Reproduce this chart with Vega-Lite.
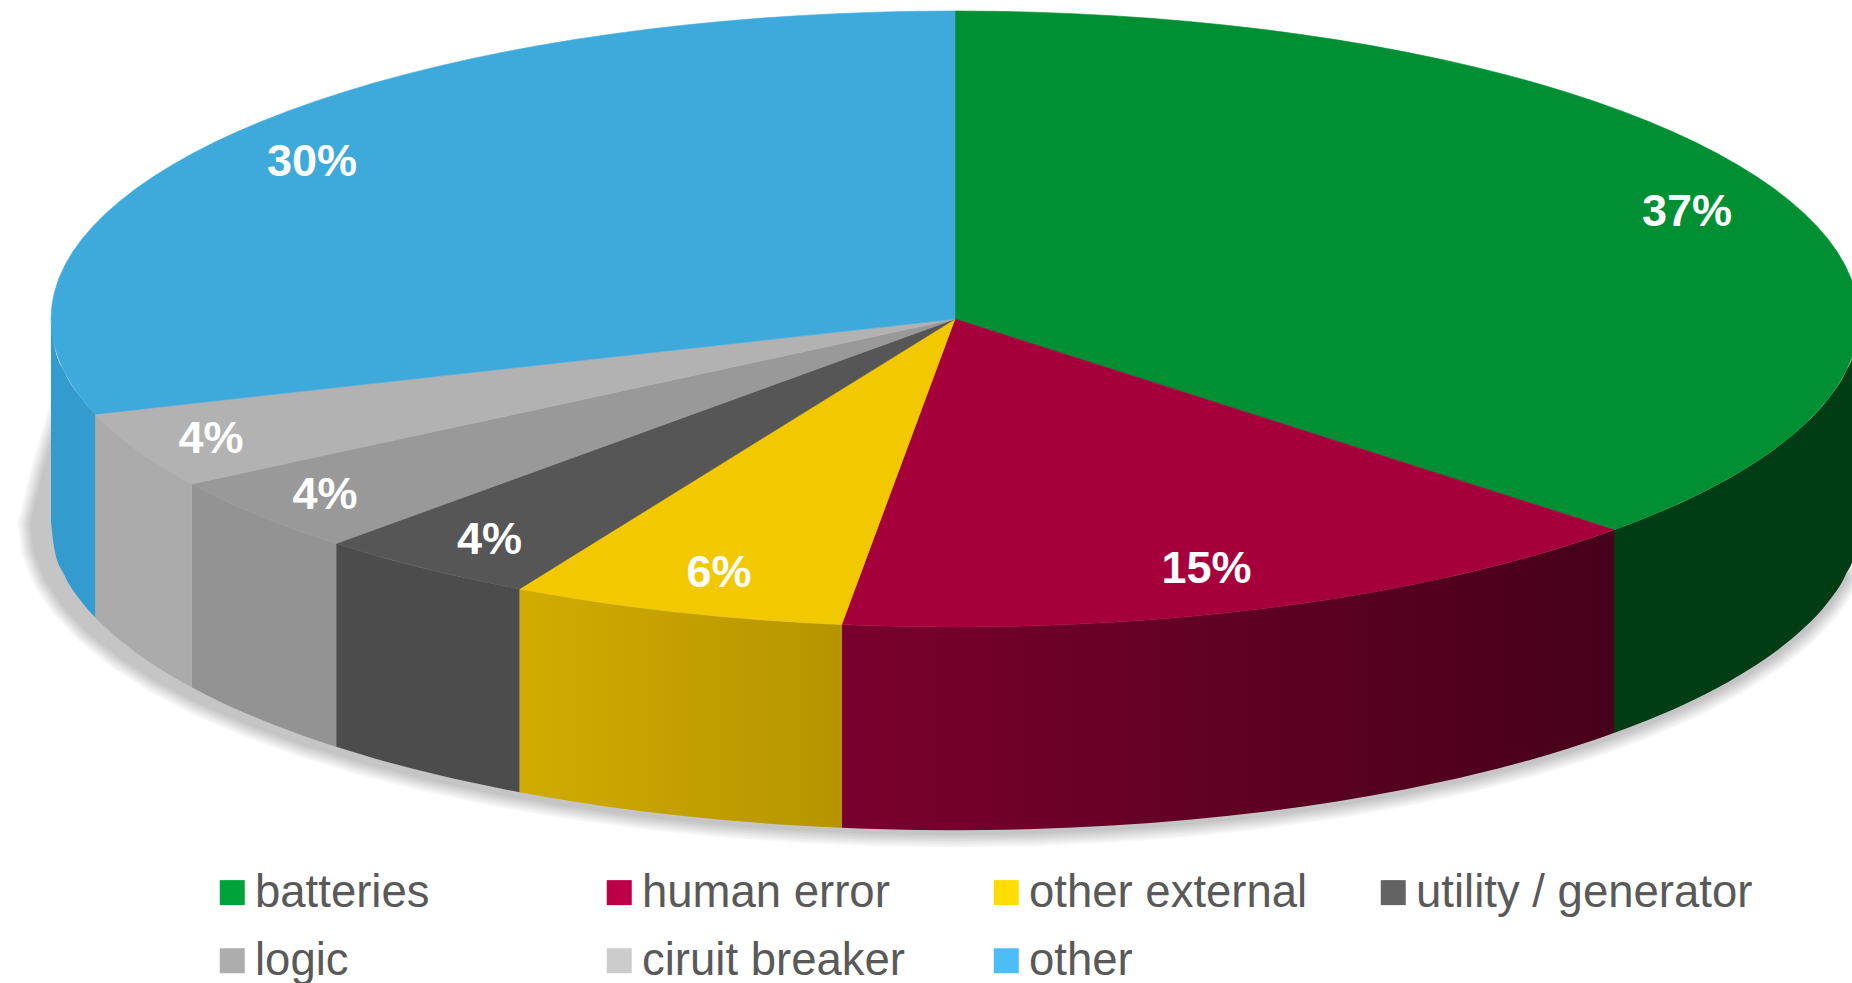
{"$schema":"https://vega.github.io/schema/vega-lite/v6.json","width":1852,"height":983,"padding":0,"autosize":{"type":"none"},"background":"white","config":{"view":{"stroke":null}},
"datasets":{
"slices":[{"category":"batteries","share":0.37,"u":80.97,"v":35.06},{"category":"human error","share":0.15,"u":27.82,"v":-80.9},{"category":"other external","share":0.06,"u":-26.1,"v":-82.1},{"category":"utility / generator","share":0.04,"u":-51.5,"v":-71.5},{"category":"logic","share":0.04,"u":-69.7,"v":-56.8},{"category":"ciruit breaker","share":0.04,"u":-82.3,"v":-38.6},{"category":"other","share":0.30,"u":-71.12,"v":51.3}],
"rim":[{"i":-1,"u":-98.5,"v":-28},{"i":0,"u":-100.5,"v":-48},{"i":1,"u":-102,"v":-66},{"i":2,"u":-101.6,"v":-74.72},{"i":3,"u":-100.45,"v":-83.36},{"i":4,"u":-98.52,"v":-91.88},{"i":5,"u":-95.85,"v":-100.2},{"i":6,"u":-92.44,"v":-108.26},{"i":7,"u":-88.33,"v":-116},{"i":8,"u":-83.56,"v":-123.36},{"i":9,"u":-78.13,"v":-130.28},{"i":10,"u":-72.12,"v":-136.71},{"i":11,"u":-65.57,"v":-142.6},{"i":12,"u":-58.51,"v":-147.92},{"i":13,"u":-51,"v":-152.6},{"i":14,"u":-43.11,"v":-156.63},{"i":15,"u":-34.88,"v":-159.97},{"i":16,"u":-26.4,"v":-162.59},{"i":17,"u":-17.71,"v":-164.48},{"i":18,"u":-8.89,"v":-165.62},{"i":19,"u":0,"v":-166},{"i":20,"u":8.72,"v":-165.62},{"i":21,"u":17.36,"v":-164.48},{"i":22,"u":25.88,"v":-162.59},{"i":23,"u":34.2,"v":-159.97},{"i":24,"u":42.26,"v":-156.63},{"i":25,"u":50,"v":-152.6},{"i":26,"u":57.36,"v":-147.92},{"i":27,"u":64.28,"v":-142.6},{"i":28,"u":70.71,"v":-136.71},{"i":29,"u":76.6,"v":-130.28},{"i":30,"u":81.92,"v":-123.36},{"i":31,"u":86.6,"v":-116},{"i":32,"u":90.63,"v":-108.26},{"i":33,"u":93.97,"v":-100.2},{"i":34,"u":96.59,"v":-91.88},{"i":35,"u":98.48,"v":-83.36}],
"walls":[
{"c":"batteries","u":100,"v":0,"v2":-66},{"c":"batteries","u":99.62,"v":-8.72,"v2":-74.72},{"c":"batteries","u":98.48,"v":-17.36,"v2":-83.36},{"c":"batteries","u":96.59,"v":-25.88,"v2":-91.88},{"c":"batteries","u":93.97,"v":-34.2,"v2":-100.2},{"c":"batteries","u":90.63,"v":-42.26,"v2":-108.26},{"c":"batteries","u":86.6,"v":-50,"v2":-116},{"c":"batteries","u":81.92,"v":-57.36,"v2":-123.36},{"c":"batteries","u":76.6,"v":-64.28,"v2":-130.28},{"c":"batteries","u":72.9,"v":-68.45,"v2":-134.45},
{"c":"human error","u":72.9,"v":-68.45,"v2":-134.45},{"c":"human error","u":70.71,"v":-70.71,"v2":-136.71},{"c":"human error","u":64.28,"v":-76.6,"v2":-142.6},{"c":"human error","u":57.36,"v":-81.92,"v2":-147.92},{"c":"human error","u":50,"v":-86.6,"v2":-152.6},{"c":"human error","u":42.26,"v":-90.63,"v2":-156.63},{"c":"human error","u":34.2,"v":-93.97,"v2":-159.97},{"c":"human error","u":25.88,"v":-96.59,"v2":-162.59},{"c":"human error","u":17.36,"v":-98.48,"v2":-164.48},{"c":"human error","u":8.72,"v":-99.62,"v2":-165.62},{"c":"human error","u":0,"v":-100,"v2":-166},{"c":"human error","u":-8.72,"v":-99.62,"v2":-165.62},{"c":"human error","u":-12.53,"v":-99.21,"v2":-165.21},
{"c":"other external","u":-12.53,"v":-99.21,"v2":-165.21},{"c":"other external","u":-17.36,"v":-98.48,"v2":-164.48},{"c":"other external","u":-25.88,"v":-96.59,"v2":-162.59},{"c":"other external","u":-34.2,"v":-93.97,"v2":-159.97},{"c":"other external","u":-42.26,"v":-90.63,"v2":-156.63},{"c":"other external","u":-48.18,"v":-87.63,"v2":-153.63},
{"c":"utility / generator","u":-48.18,"v":-87.63,"v2":-153.63},{"c":"utility / generator","u":-50,"v":-86.6,"v2":-152.6},{"c":"utility / generator","u":-57.36,"v":-81.92,"v2":-147.92},{"c":"utility / generator","u":-64.28,"v":-76.6,"v2":-142.6},{"c":"utility / generator","u":-68.45,"v":-72.9,"v2":-138.9},
{"c":"logic","u":-68.45,"v":-72.9,"v2":-138.9},{"c":"logic","u":-70.71,"v":-70.71,"v2":-136.71},{"c":"logic","u":-76.6,"v":-64.28,"v2":-130.28},{"c":"logic","u":-81.92,"v":-57.36,"v2":-123.36},{"c":"logic","u":-84.43,"v":-53.58,"v2":-119.58},
{"c":"ciruit breaker","u":-84.43,"v":-53.58,"v2":-119.58},{"c":"ciruit breaker","u":-86.6,"v":-50,"v2":-116},{"c":"ciruit breaker","u":-90.63,"v":-42.26,"v2":-108.26},{"c":"ciruit breaker","u":-93.97,"v":-34.2,"v2":-100.2},{"c":"ciruit breaker","u":-95.11,"v":-30.9,"v2":-96.9},
{"c":"other","u":-95.11,"v":-30.9,"v2":-96.9},{"c":"other","u":-96.59,"v":-25.88,"v2":-91.88},{"c":"other","u":-98.48,"v":-17.36,"v2":-83.36},{"c":"other","u":-99.62,"v":-8.72,"v2":-74.72},{"c":"other","u":-100,"v":0,"v2":-66}],
"top":[
{"c":"batteries","i":-1,"u":0,"v":0},{"c":"batteries","i":0,"u":0,"v":100},{"c":"batteries","i":2.5,"u":4.36,"v":99.9},{"c":"batteries","i":5,"u":8.72,"v":99.62},{"c":"batteries","i":7.5,"u":13.05,"v":99.14},{"c":"batteries","i":10,"u":17.36,"v":98.48},{"c":"batteries","i":12.5,"u":21.64,"v":97.63},{"c":"batteries","i":15,"u":25.88,"v":96.59},{"c":"batteries","i":17.5,"u":30.07,"v":95.37},{"c":"batteries","i":20,"u":34.2,"v":93.97},{"c":"batteries","i":22.5,"u":38.27,"v":92.39},{"c":"batteries","i":25,"u":42.26,"v":90.63},{"c":"batteries","i":27.5,"u":46.17,"v":88.7},{"c":"batteries","i":30,"u":50,"v":86.6},{"c":"batteries","i":32.5,"u":53.73,"v":84.34},{"c":"batteries","i":35,"u":57.36,"v":81.92},{"c":"batteries","i":37.5,"u":60.88,"v":79.34},{"c":"batteries","i":40,"u":64.28,"v":76.6},{"c":"batteries","i":42.5,"u":67.56,"v":73.73},{"c":"batteries","i":45,"u":70.71,"v":70.71},{"c":"batteries","i":47.5,"u":73.73,"v":67.56},{"c":"batteries","i":50,"u":76.6,"v":64.28},{"c":"batteries","i":52.5,"u":79.34,"v":60.88},{"c":"batteries","i":55,"u":81.92,"v":57.36},{"c":"batteries","i":57.5,"u":84.34,"v":53.73},{"c":"batteries","i":60,"u":86.6,"v":50},{"c":"batteries","i":62.5,"u":88.7,"v":46.17},{"c":"batteries","i":65,"u":90.63,"v":42.26},{"c":"batteries","i":67.5,"u":92.39,"v":38.27},{"c":"batteries","i":70,"u":93.97,"v":34.2},{"c":"batteries","i":72.5,"u":95.37,"v":30.07},{"c":"batteries","i":75,"u":96.59,"v":25.88},{"c":"batteries","i":77.5,"u":97.63,"v":21.64},{"c":"batteries","i":80,"u":98.48,"v":17.36},{"c":"batteries","i":82.5,"u":99.14,"v":13.05},{"c":"batteries","i":85,"u":99.62,"v":8.72},{"c":"batteries","i":87.5,"u":99.9,"v":4.36},{"c":"batteries","i":90,"u":100,"v":0},{"c":"batteries","i":92.5,"u":99.9,"v":-4.36},{"c":"batteries","i":95,"u":99.62,"v":-8.72},{"c":"batteries","i":97.5,"u":99.14,"v":-13.05},{"c":"batteries","i":100,"u":98.48,"v":-17.36},{"c":"batteries","i":102.5,"u":97.63,"v":-21.64},{"c":"batteries","i":105,"u":96.59,"v":-25.88},{"c":"batteries","i":107.5,"u":95.37,"v":-30.07},{"c":"batteries","i":110,"u":93.97,"v":-34.2},{"c":"batteries","i":112.5,"u":92.39,"v":-38.27},{"c":"batteries","i":115,"u":90.63,"v":-42.26},{"c":"batteries","i":117.5,"u":88.7,"v":-46.17},{"c":"batteries","i":120,"u":86.6,"v":-50},{"c":"batteries","i":122.5,"u":84.34,"v":-53.73},{"c":"batteries","i":125,"u":81.92,"v":-57.36},{"c":"batteries","i":127.5,"u":79.34,"v":-60.88},{"c":"batteries","i":130,"u":76.6,"v":-64.28},{"c":"batteries","i":132.5,"u":73.73,"v":-67.56},{"c":"batteries","i":133.2,"u":72.9,"v":-68.45},
{"c":"human error","i":-1,"u":0,"v":0},{"c":"human error","i":133.2,"u":72.9,"v":-68.45},{"c":"human error","i":135,"u":70.71,"v":-70.71},{"c":"human error","i":137.5,"u":67.56,"v":-73.73},{"c":"human error","i":140,"u":64.28,"v":-76.6},{"c":"human error","i":142.5,"u":60.88,"v":-79.34},{"c":"human error","i":145,"u":57.36,"v":-81.92},{"c":"human error","i":147.5,"u":53.73,"v":-84.34},{"c":"human error","i":150,"u":50,"v":-86.6},{"c":"human error","i":152.5,"u":46.17,"v":-88.7},{"c":"human error","i":155,"u":42.26,"v":-90.63},{"c":"human error","i":157.5,"u":38.27,"v":-92.39},{"c":"human error","i":160,"u":34.2,"v":-93.97},{"c":"human error","i":162.5,"u":30.07,"v":-95.37},{"c":"human error","i":165,"u":25.88,"v":-96.59},{"c":"human error","i":167.5,"u":21.64,"v":-97.63},{"c":"human error","i":170,"u":17.36,"v":-98.48},{"c":"human error","i":172.5,"u":13.05,"v":-99.14},{"c":"human error","i":175,"u":8.72,"v":-99.62},{"c":"human error","i":177.5,"u":4.36,"v":-99.9},{"c":"human error","i":180,"u":0,"v":-100},{"c":"human error","i":182.5,"u":-4.36,"v":-99.9},{"c":"human error","i":185,"u":-8.72,"v":-99.62},{"c":"human error","i":187.2,"u":-12.53,"v":-99.21},
{"c":"other external","i":-1,"u":0,"v":0},{"c":"other external","i":187.2,"u":-12.53,"v":-99.21},{"c":"other external","i":190,"u":-17.36,"v":-98.48},{"c":"other external","i":192.5,"u":-21.64,"v":-97.63},{"c":"other external","i":195,"u":-25.88,"v":-96.59},{"c":"other external","i":197.5,"u":-30.07,"v":-95.37},{"c":"other external","i":200,"u":-34.2,"v":-93.97},{"c":"other external","i":202.5,"u":-38.27,"v":-92.39},{"c":"other external","i":205,"u":-42.26,"v":-90.63},{"c":"other external","i":207.5,"u":-46.17,"v":-88.7},{"c":"other external","i":208.8,"u":-48.18,"v":-87.63},
{"c":"utility / generator","i":-1,"u":0,"v":0},{"c":"utility / generator","i":208.8,"u":-48.18,"v":-87.63},{"c":"utility / generator","i":210,"u":-50,"v":-86.6},{"c":"utility / generator","i":212.5,"u":-53.73,"v":-84.34},{"c":"utility / generator","i":215,"u":-57.36,"v":-81.92},{"c":"utility / generator","i":217.5,"u":-60.88,"v":-79.34},{"c":"utility / generator","i":220,"u":-64.28,"v":-76.6},{"c":"utility / generator","i":222.5,"u":-67.56,"v":-73.73},{"c":"utility / generator","i":223.2,"u":-68.45,"v":-72.9},
{"c":"logic","i":-1,"u":0,"v":0},{"c":"logic","i":223.2,"u":-68.45,"v":-72.9},{"c":"logic","i":225,"u":-70.71,"v":-70.71},{"c":"logic","i":227.5,"u":-73.73,"v":-67.56},{"c":"logic","i":230,"u":-76.6,"v":-64.28},{"c":"logic","i":232.5,"u":-79.34,"v":-60.88},{"c":"logic","i":235,"u":-81.92,"v":-57.36},{"c":"logic","i":237.6,"u":-84.43,"v":-53.58},
{"c":"ciruit breaker","i":-1,"u":0,"v":0},{"c":"ciruit breaker","i":237.6,"u":-84.43,"v":-53.58},{"c":"ciruit breaker","i":240,"u":-86.6,"v":-50},{"c":"ciruit breaker","i":242.5,"u":-88.7,"v":-46.17},{"c":"ciruit breaker","i":245,"u":-90.63,"v":-42.26},{"c":"ciruit breaker","i":247.5,"u":-92.39,"v":-38.27},{"c":"ciruit breaker","i":250,"u":-93.97,"v":-34.2},{"c":"ciruit breaker","i":252,"u":-95.11,"v":-30.9},
{"c":"other","i":-1,"u":0,"v":0},{"c":"other","i":252,"u":-95.11,"v":-30.9},{"c":"other","i":255,"u":-96.59,"v":-25.88},{"c":"other","i":257.5,"u":-97.63,"v":-21.64},{"c":"other","i":260,"u":-98.48,"v":-17.36},{"c":"other","i":262.5,"u":-99.14,"v":-13.05},{"c":"other","i":265,"u":-99.62,"v":-8.72},{"c":"other","i":267.5,"u":-99.9,"v":-4.36},{"c":"other","i":270,"u":-100,"v":0},{"c":"other","i":272.5,"u":-99.9,"v":4.36},{"c":"other","i":275,"u":-99.62,"v":8.72},{"c":"other","i":277.5,"u":-99.14,"v":13.05},{"c":"other","i":280,"u":-98.48,"v":17.36},{"c":"other","i":282.5,"u":-97.63,"v":21.64},{"c":"other","i":285,"u":-96.59,"v":25.88},{"c":"other","i":287.5,"u":-95.37,"v":30.07},{"c":"other","i":290,"u":-93.97,"v":34.2},{"c":"other","i":292.5,"u":-92.39,"v":38.27},{"c":"other","i":295,"u":-90.63,"v":42.26},{"c":"other","i":297.5,"u":-88.7,"v":46.17},{"c":"other","i":300,"u":-86.6,"v":50},{"c":"other","i":302.5,"u":-84.34,"v":53.73},{"c":"other","i":305,"u":-81.92,"v":57.36},{"c":"other","i":307.5,"u":-79.34,"v":60.88},{"c":"other","i":310,"u":-76.6,"v":64.28},{"c":"other","i":312.5,"u":-73.73,"v":67.56},{"c":"other","i":315,"u":-70.71,"v":70.71},{"c":"other","i":317.5,"u":-67.56,"v":73.73},{"c":"other","i":320,"u":-64.28,"v":76.6},{"c":"other","i":322.5,"u":-60.88,"v":79.34},{"c":"other","i":325,"u":-57.36,"v":81.92},{"c":"other","i":327.5,"u":-53.73,"v":84.34},{"c":"other","i":330,"u":-50,"v":86.6},{"c":"other","i":332.5,"u":-46.17,"v":88.7},{"c":"other","i":335,"u":-42.26,"v":90.63},{"c":"other","i":337.5,"u":-38.27,"v":92.39},{"c":"other","i":340,"u":-34.2,"v":93.97},{"c":"other","i":342.5,"u":-30.07,"v":95.37},{"c":"other","i":345,"u":-25.88,"v":96.59},{"c":"other","i":347.5,"u":-21.64,"v":97.63},{"c":"other","i":350,"u":-17.36,"v":98.48},{"c":"other","i":352.5,"u":-13.05,"v":99.14},{"c":"other","i":355,"u":-8.72,"v":99.62},{"c":"other","i":357.5,"u":-4.36,"v":99.9},{"c":"other","i":360,"u":0,"v":100}]
},
"encoding":{"x":{"field":"u","type":"quantitative","axis":null,"scale":{"domain":[-105.64,99.23],"nice":false,"zero":false}},"y":{"field":"v","type":"quantitative","axis":null,"scale":{"domain":[-215.58,103.57],"nice":false,"zero":false}}},
"layer":[
{"data":{"name":"rim"},"mark":{"type":"line","interpolate":"linear-closed","fill":"#777777","stroke":"#777777","strokeWidth":30,"opacity":0.06,"strokeJoin":"round","yOffset":2},"encoding":{"order":{"field":"i","type":"quantitative"}}},
{"data":{"name":"rim"},"mark":{"type":"line","interpolate":"linear-closed","fill":"#777777","stroke":"#777777","strokeWidth":26,"opacity":0.06,"strokeJoin":"round","yOffset":2},"encoding":{"order":{"field":"i","type":"quantitative"}}},
{"data":{"name":"rim"},"mark":{"type":"line","interpolate":"linear-closed","fill":"#777777","stroke":"#777777","strokeWidth":22,"opacity":0.06,"strokeJoin":"round","yOffset":2},"encoding":{"order":{"field":"i","type":"quantitative"}}},
{"data":{"name":"rim"},"mark":{"type":"line","interpolate":"linear-closed","fill":"#777777","stroke":"#777777","strokeWidth":18,"opacity":0.07,"strokeJoin":"round","yOffset":2},"encoding":{"order":{"field":"i","type":"quantitative"}}},
{"data":{"name":"rim"},"mark":{"type":"line","interpolate":"linear-closed","fill":"#777777","stroke":"#777777","strokeWidth":14,"opacity":0.07,"strokeJoin":"round","yOffset":2},"encoding":{"order":{"field":"i","type":"quantitative"}}},
{"data":{"name":"rim"},"mark":{"type":"line","interpolate":"linear-closed","fill":"#777777","stroke":"#777777","strokeWidth":10,"opacity":0.08,"strokeJoin":"round","yOffset":2},"encoding":{"order":{"field":"i","type":"quantitative"}}},
{"data":{"name":"rim"},"mark":{"type":"line","interpolate":"linear-closed","fill":"#777777","stroke":"#777777","strokeWidth":6,"opacity":0.08,"strokeJoin":"round","yOffset":2},"encoding":{"order":{"field":"i","type":"quantitative"}}},
{"data":{"name":"walls"},"transform":[{"filter":"datum.c==='batteries'"}],"mark":{"type":"area","interpolate":"monotone","clip":true,"color":"#003c14"},"encoding":{"y2":{"field":"v2"}}},
{"data":{"name":"walls"},"transform":[{"filter":"datum.c==='human error'"}],"mark":{"type":"area","interpolate":"monotone","color":{"gradient":"linear","x1":0,"x2":1,"y1":0,"y2":0,"stops":[{"offset":0,"color":"#7a002e"},{"offset":1,"color":"#46001a"}]}},"encoding":{"y2":{"field":"v2"}}},
{"data":{"name":"walls"},"transform":[{"filter":"datum.c==='other external'"}],"mark":{"type":"area","interpolate":"monotone","color":{"gradient":"linear","x1":0,"x2":1,"y1":0,"y2":0,"stops":[{"offset":0,"color":"#d1ac00"},{"offset":1,"color":"#b59400"}]}},"encoding":{"y2":{"field":"v2"}}},
{"data":{"name":"walls"},"transform":[{"filter":"datum.c==='utility / generator'"}],"mark":{"type":"area","interpolate":"monotone","color":"#4c4c4c"},"encoding":{"y2":{"field":"v2"}}},
{"data":{"name":"walls"},"transform":[{"filter":"datum.c==='logic'"}],"mark":{"type":"area","interpolate":"monotone","color":"#939393"},"encoding":{"y2":{"field":"v2"}}},
{"data":{"name":"walls"},"transform":[{"filter":"datum.c==='ciruit breaker'"}],"mark":{"type":"area","interpolate":"monotone","color":"#ababab"},"encoding":{"y2":{"field":"v2"}}},
{"data":{"name":"walls"},"transform":[{"filter":"datum.c==='other'"}],"mark":{"type":"area","interpolate":"monotone","color":"#349bce"},"encoding":{"y2":{"field":"v2"}}},
{"data":{"name":"top"},"mark":{"type":"line","interpolate":"linear-closed","clip":true,"strokeWidth":0.6},"encoding":{"detail":{"field":"c"},"order":{"field":"i","type":"quantitative"},
"fill":{"field":"c","type":"nominal","legend":null,"scale":{"domain":["batteries","human error","other external","utility / generator","logic","ciruit breaker","other"],"range":["#008f32","#a6003c","#f2c800","#565656","#999999","#b2b2b2","#3eaadc"]}},
"stroke":{"field":"c","type":"nominal","legend":null,"scale":{"domain":["batteries","human error","other external","utility / generator","logic","ciruit breaker","other"],"range":["#008f32","#a6003c","#f2c800","#565656","#999999","#b2b2b2","#3eaadc"]}}}},
{"data":{"name":"slices"},"mark":{"type":"text","font":"Liberation Sans","fontWeight":"bold","fontSize":45,"color":"white","baseline":"middle","align":"center","dy":1},"encoding":{"text":{"field":"share","type":"quantitative","format":".0%"}}},
{"data":{"name":"slices"},"mark":{"type":"point","filled":true,"shape":"square","size":0,"opacity":1},"encoding":{"color":{"field":"category","type":"nominal","scale":{"domain":["batteries","human error","other external","utility / generator","logic","ciruit breaker","other"],"range":["#00a33a","#bc0047","#ffdd00","#636363","#adadad","#cccccc","#4dbef5"]},"legend":{"title":null,"orient":"none","legendX":209.5,"legendY":869.5,"columns":4,"direction":"horizontal","gridAlign":"all","symbolType":"square","symbolSize":625,"symbolStrokeWidth":0,"symbolOpacity":1,"labelFont":"Liberation Sans","labelFontSize":45.5,"labelColor":"#595959","labelLimit":600,"labelOffset":0,"columnPadding":5,"rowPadding":21.5}}}}
],
"resolve":{"scale":{"color":"independent","fill":"independent","stroke":"independent"}}
}
